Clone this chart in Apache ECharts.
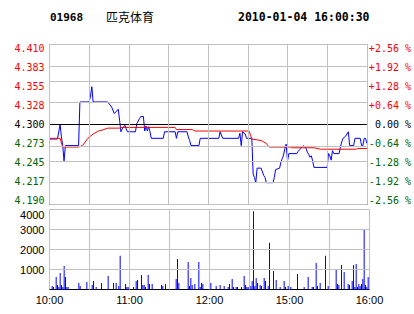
<!DOCTYPE html>
<html><head><meta charset="utf-8">
<script src="https://cdn.jsdelivr.net/npm/echarts@6/dist/echarts.min.js"></script>
<style>html,body{margin:0;padding:0;background:#fff}#c{width:414px;height:314px}</style>
</head><body><div id="c"></div>
<script>
const stockCode = '01968';
const stockName = '匹克体育';
const stampText = '2010-01-04 16:00:30';
const prevClose = 4.30;
const timeTickMinutes = [0, 60, 120, 180, 240];
const timeTickLabels = ['10:00', '11:00', '12:00', '15:00', '16:00'];
const gridMinutes = [0, 30, 60, 90, 120, 150, 180, 210, 240];
const priceTicks = [4.19, 4.2175, 4.245, 4.2725, 4.30, 4.3275, 4.355, 4.3825, 4.41];
const priceTickLabels = ['4.190', '4.217', '4.245', '4.273', '4.300', '4.328', '4.355', '4.383', '4.410'];
const pctTickLabels = ['-2.56 %', '-1.92 %', '-1.28 %', '-0.64 %', ' 0.00 %', '+0.64 %', '+1.28 %', '+1.92 %', '+2.56 %'];
const volTicks = [1000, 2000, 3000, 4000];

// [minute index since 10:00 (lunch break removed), price]
const priceLine = [[0,4.280],[6,4.280],[7,4.290],[8,4.300],[9,4.283],[10,4.271],[11,4.250],[12,4.271],[22,4.271],[23,4.331],[30,4.331],[31,4.339],[32,4.352],[33,4.331],[44,4.331],[47,4.324],[49,4.315],[52,4.321],[53,4.306],[54,4.290],[55,4.294],[57,4.299],[58,4.294],[59,4.290],[65,4.290],[66,4.301],[68,4.308],[69,4.311],[71,4.311],[72,4.291],[73,4.298],[74,4.291],[75,4.297],[76,4.290],[77,4.281],[86,4.281],[87,4.290],[95,4.290],[96,4.281],[97,4.290],[104,4.290],[105,4.283],[106,4.278],[107,4.271],[113,4.271],[114,4.281],[128,4.281],[129,4.290],[131,4.281],[143,4.281],[144,4.288],[145,4.271],[146,4.290],[148,4.287],[149,4.281],[153,4.281],[154,4.232],[155,4.227],[156,4.220],[157,4.240],[160,4.240],[162,4.230],[163,4.227],[164,4.220],[169,4.220],[170,4.227],[171,4.238],[174,4.240],[175,4.248],[176,4.253],[177,4.258],[178,4.267],[179,4.273],[180,4.250],[181,4.260],[187,4.260],[188,4.263],[190,4.267],[192,4.271],[194,4.267],[195,4.262],[196,4.259],[197,4.255],[198,4.257],[199,4.250],[200,4.241],[210,4.241],[211,4.260],[212,4.257],[213,4.251],[214,4.264],[215,4.260],[219,4.260],[220,4.269],[221,4.276],[222,4.281],[224,4.284],[225,4.287],[226,4.290],[227,4.271],[230,4.271],[231,4.281],[235,4.281],[236,4.271],[237,4.271],[238,4.281],[239,4.281],[240,4.274]];

const avgLine = [[0,4.281],[8,4.281],[10,4.269],[22,4.269],[25,4.271],[29,4.281],[33,4.287],[37,4.291],[41,4.293],[44,4.295],[53,4.295],[54,4.296],[95,4.296],[96,4.293],[108,4.293],[110,4.291],[151,4.291],[153,4.280],[160,4.278],[162,4.276],[164,4.274],[166,4.269],[182,4.269],[183,4.268],[200,4.268],[205,4.266],[232,4.266],[233,4.267],[240,4.267]];

const volumeBars = [[2,170],[3,120],[5,620],[6,220],[7,120],[8,820],[9,220],[10,120],[11,1180],[12,620],[13,120],[14,120],[22,320],[23,170],[28,370],[30,570],[32,220],[33,420],[35,120],[39,320],[44,670],[48,320],[50,320],[52,170],[53,1690],[57,270],[58,120],[59,120],[60,120],[63,120],[65,420],[66,470],[69,720],[70,220],[71,220],[72,120],[74,720],[75,270],[77,270],[84,220],[85,170],[87,270],[95,520],[96,1530],[97,320],[104,1380],[105,170],[106,570],[107,220],[109,270],[112,1380],[113,120],[114,320],[115,270],[121,320],[125,170],[128,220],[131,170],[134,120],[135,270],[137,520],[138,120],[140,120],[141,120],[144,120],[146,670],[147,220],[148,120],[149,120],[150,120],[151,170],[152,420],[153,3910],[154,170],[155,570],[156,320],[158,220],[159,170],[161,570],[162,420],[164,170],[165,2340],[168,930],[170,470],[173,120],[176,420],[177,120],[179,170],[180,120],[181,120],[186,780],[191,120],[194,620],[197,120],[198,120],[200,1330],[201,170],[203,320],[207,1690],[209,170],[210,120],[215,1030],[216,270],[217,220],[219,1230],[221,880],[224,270],[225,220],[227,420],[228,1230],[229,120],[230,1280],[231,120],[232,270],[233,170],[234,270],[235,520],[236,3000],[237,220],[238,120],[239,620],[240,170]];

const GRID = '#c0c0c0', RED = '#ff0000', GREEN = '#006400', BLUE = '#0000ff';
const MONO = '"DejaVu Sans Mono", monospace';
const SANS = '"Liberation Sans", Arial, sans-serif';
const mid = prevClose;
const step = priceTicks[1] - priceTicks[0];
const squeeze = 0.95;
const labelVals = priceTicks.map(t => mid + (t - mid) * squeeze);
function idxOf(v) { return Math.round((+v - mid) / (step * squeeze)) + 4; }
function colorOf(v) { const i = idxOf(v); return i > 4 ? RED : (i < 4 ? GREEN : '#000'); }

function ls(color) { return {color: color, type: 'solid', width: 1, opacity: 1}; }
function gridMark(hVals, blackVals, vVals) {
  const data = [];
  hVals.forEach(v => data.push({yAxis: v, lineStyle: ls(blackVals.indexOf(v) >= 0 ? '#000' : GRID)}));
  vVals.forEach(v => data.push({xAxis: v, lineStyle: ls(GRID)}));
  return {silent: true, symbol: ['none', 'none'], label: {show: false}, animation: false,
          emphasis: {disabled: true}, lineStyle: ls(GRID), data: data};
}

const chart = echarts.init(document.getElementById('c'), null, {renderer: 'svg'});
const xBase = {
  type: 'value', min: 0, max: 240, interval: 30,
  axisTick: {show: false},
  splitLine: {show: false},
  axisLine: {show: true, onZero: false, lineStyle: {color: '#000', width: 1}}
};
chart.setOption({
  animation: false,
  backgroundColor: '#fff',
  grid: [
    {left: 49.5, top: 44.5, width: 320, height: 160},
    {left: 49.5, top: 209.5, width: 320, height: 80}
  ],
  graphic: [
    {type: 'text', x: 50, y: 17, style: {text: stockCode, font: 'bold 11px ' + MONO, fill: '#000', verticalAlign: 'middle'}},
    {type: 'text', x: 106, y: 16, style: {text: stockName, font: '12px "Noto Sans CJK SC"', fill: '#000', verticalAlign: 'middle'}},
    {type: 'text', x: 238, y: 17, style: {text: stampText, font: 'bold 11.5px ' + MONO, fill: '#000', verticalAlign: 'middle'}}
  ],
  xAxis: [
    Object.assign({}, xBase, {gridIndex: 0, axisLabel: {show: false}}),
    Object.assign({}, xBase, {gridIndex: 1, axisLabel: {
      show: true, color: '#000', fontFamily: SANS, fontSize: 11, margin: 5,
      formatter: v => { const i = timeTickMinutes.indexOf(v); return i < 0 ? '' : timeTickLabels[i]; }
    }})
  ],
  yAxis: [
    {type: 'value', gridIndex: 0, min: priceTicks[0], max: priceTicks[priceTicks.length - 1], position: 'left',
     axisLine: {show: true, lineStyle: {color: GRID}},
     axisTick: {show: false},
     splitLine: {show: false},
     axisLabel: {customValues: labelVals, formatter: v => priceTickLabels[idxOf(v)], color: v => colorOf(v),
                 fontFamily: MONO, fontSize: 10, margin: 5}},
    {type: 'value', gridIndex: 0, min: priceTicks[0], max: priceTicks[priceTicks.length - 1], position: 'right',
     axisLine: {show: true, lineStyle: {color: GRID}},
     axisTick: {show: false},
     splitLine: {show: false},
     axisLabel: {customValues: labelVals, formatter: v => pctTickLabels[idxOf(v)], color: v => colorOf(v),
                 fontFamily: MONO, fontSize: 10, margin: 2, align: 'left'}},
    {type: 'value', gridIndex: 1, min: 0, max: volTicks[volTicks.length - 1], interval: volTicks[1] - volTicks[0], position: 'left',
     axisLine: {show: true, lineStyle: {color: GRID}},
     axisTick: {show: false},
     splitLine: {show: false},
     axisLabel: {formatter: v => v === 0 ? '' : String(v), color: '#000', fontFamily: SANS, fontSize: 11, margin: 5,
                 verticalAlignMaxLabel: 'top'}}
  ],
  series: [
    {type: 'line', name: 'priceGrid', xAxisIndex: 0, yAxisIndex: 0, data: [], symbol: 'none', z: 1,
     markLine: gridMark(priceTicks, [prevClose], gridMinutes)},
    {type: 'line', name: 'volGrid', xAxisIndex: 1, yAxisIndex: 2, data: [], symbol: 'none', z: 1,
     markLine: gridMark(volTicks, [], gridMinutes)},
    {type: 'line', xAxisIndex: 0, yAxisIndex: 0, data: priceLine, symbol: 'none', z: 3,
     lineStyle: {color: BLUE, width: 1}},
    {type: 'line', xAxisIndex: 0, yAxisIndex: 0, data: avgLine, symbol: 'none', z: 4,
     lineStyle: {color: RED, width: 1}},
    {type: 'bar', xAxisIndex: 1, yAxisIndex: 2, data: volumeBars, barWidth: 1, itemStyle: {color: BLUE}, z: 3}
  ]
});
</script></body></html>
